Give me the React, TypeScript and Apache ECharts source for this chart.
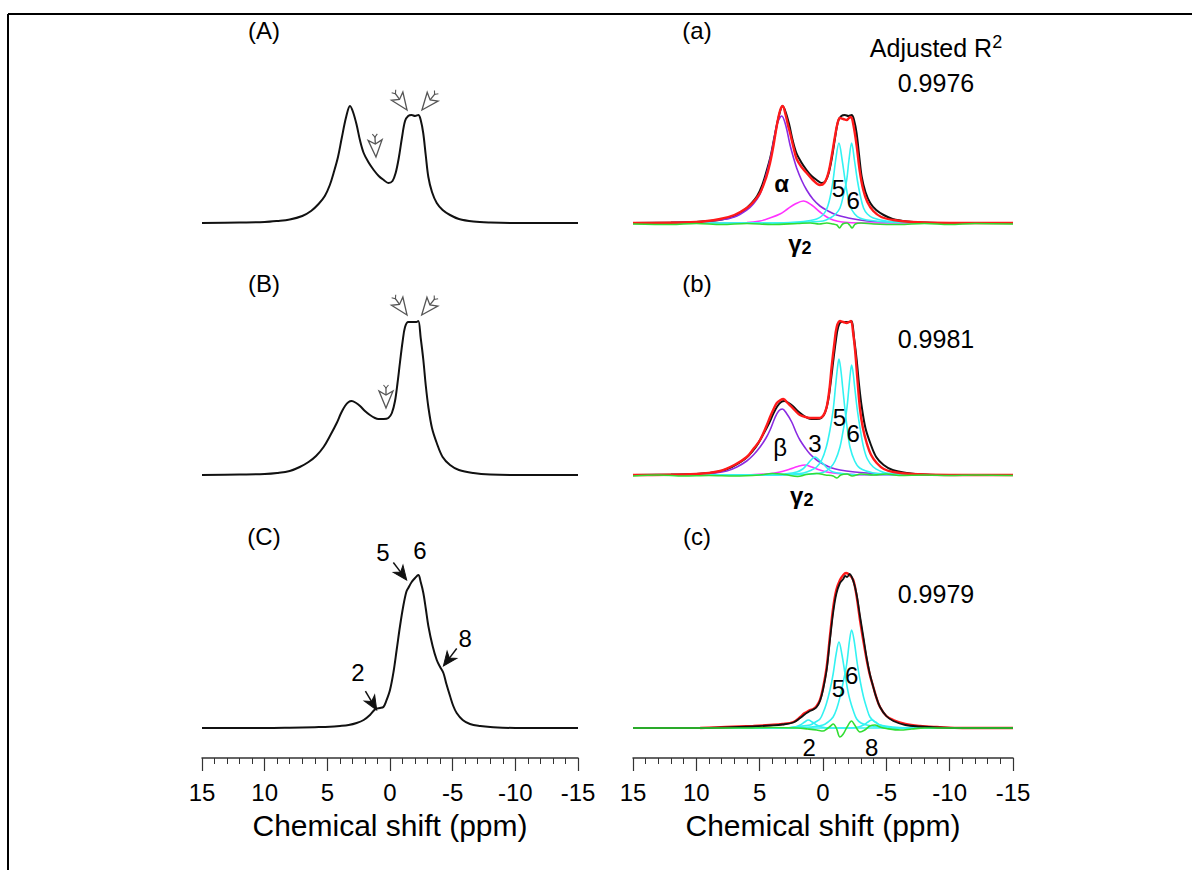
import React, { useEffect, useRef } from "react";
import * as echarts from "echarts";

type P = [number, number];

const FONT = "'Liberation Sans', Arial, Helvetica, sans-serif";

// x axis (ppm) ticks
const xMin = -15;
const xMax = 15;
const xInterval = 5;
const axisTitle = "Chemical shift (ppm)";

const leftPanelLabels = ["(A)", "(B)", "(C)"];
const rightPanelLabels = ["(a)", "(b)", "(c)"];
const r2Header = "Adjusted R";
const r2Values = ["0.9976", "0.9981", "0.9979"];

// ---------- experimental spectra (ppm, intensity) ----------
const specA: P[] = [[15,0],[12,0.5],[10,1],[9,2],[8,3.5],[7,7],[6.3,12],[5.7,19],[5.2,27],[4.8,38],[4.5,50],[4.15,66],[3.85,85],[3.5,106],[3.19,117],[2.95,111],[2.66,98],[2.4,83],[2.1,70],[1.73,61],[1.3,53],[0.9,47],[0.5,43],[0.13,40],[-0.2,42],[-0.45,50],[-0.7,65],[-0.95,85],[-1.2,102],[-1.45,107],[-1.73,108],[-2.0,107],[-2.26,108],[-2.45,103],[-2.65,90],[-2.85,68],[-3.06,46],[-3.35,31],[-3.73,20],[-4.2,13],[-4.79,8],[-5.5,4],[-6.65,1.5],[-8,0.5],[-10,0],[-15,0]];
const specB: P[] = [[15,0],[12,0.5],[10,1],[9,2],[8,4],[7.2,8],[6.5,13],[5.9,19],[5.3,28],[4.75,40],[4.25,52],[3.9,62],[3.59,69],[3.3,73],[3.06,74],[2.7,72],[2.39,69],[2.0,64],[1.6,60],[1.2,57],[0.93,56],[0.5,56],[0.13,57],[-0.15,62],[-0.4,74],[-0.6,92],[-0.8,113],[-1.0,133],[-1.2,148],[-1.46,153],[-1.86,153],[-2.1,153],[-2.26,154],[-2.45,137],[-2.66,115],[-2.85,90],[-3.06,68],[-3.35,47],[-3.73,32],[-4.2,18],[-4.79,10],[-5.5,5],[-6.65,2],[-8,0.5],[-10,0],[-15,0]];
const specC: P[] = [[15,0],[10,0],[8,0.3],[6,0.8],[4.8,1.2],[3.99,2],[3.3,3],[2.66,5],[2.1,8],[1.6,13],[1.25,18],[1.06,19.5],[0.8,20],[0.53,21],[0.3,27],[0,38],[-0.28,56],[-0.53,78],[-0.8,102],[-1.06,122],[-1.3,136],[-1.46,140],[-1.73,146],[-2.0,150],[-2.26,153],[-2.45,146],[-2.66,135],[-2.86,119],[-3.06,102],[-3.4,82],[-3.73,68],[-4.0,61],[-4.26,55],[-4.5,44],[-4.79,32],[-5.05,22],[-5.32,15],[-5.8,8],[-6.38,4],[-7.2,2],[-8,1],[-10,0],[-15,0]];
// experimental trace as drawn in panel (c)
const specCfit: P[] = [[15,0],[10,0],[7.66,0.5],[5.5,1.5],[4.18,2.5],[3.2,3.5],[2.34,5.5],[1.8,10],[1.5,13],[1.29,15],[1.03,17],[0.77,18.5],[0.5,21],[0.24,27],[0,38],[-0.29,58],[-0.55,88],[-0.81,116],[-1.05,134],[-1.34,145],[-1.6,149],[-1.75,152],[-1.9,151],[-2.1,154],[-2.39,147],[-2.65,134],[-2.92,112],[-3.2,90],[-3.45,70],[-3.7,54],[-3.97,41],[-4.2,31],[-4.5,21],[-5.0,12],[-5.55,7],[-6.5,3],[-7.66,1.5],[-9,0.5],[-11,0],[-15,0]];

// ---------- fits, panel (a) ----------
const fitA: P[] = [[15,0],[10,1],[8.13,4],[7,8],[6.02,15],[5.5,21],[4.97,30],[4.5,45],[4.18,60],[3.9,78],[3.65,97],[3.4,112],[3.18,117],[2.95,108],[2.75,97],[2.6,90],[2.3,74],[2.08,64],[1.7,56],[1.29,50],[0.8,43],[0.24,38],[-0.1,40],[-0.42,50],[-0.7,68],[-0.95,87],[-1.15,100],[-1.34,105],[-1.6,104],[-1.87,103],[-2.05,105],[-2.21,106],[-2.4,98],[-2.66,77],[-2.9,52],[-3.18,33],[-3.5,21],[-3.97,12],[-4.6,6],[-5.55,3],[-7,1],[-10,0],[-15,0]];
const alphaA: P[] = [[15,0],[10,1],[8.13,3],[7,6],[6.02,13],[5.5,19],[4.97,29],[4.44,50],[4.1,68],[3.92,80],[3.6,100],[3.26,107],[2.95,98],[2.6,78],[2.3,64],[2.08,55],[1.7,43],[1.29,33],[0.8,24],[0.24,17],[-0.4,12],[-1.08,8],[-2,5],[-2.9,3],[-4,1.5],[-6,0.5],[-15,0]];
const gamma2A: P[] = [[15,0],[6,0.5],[4.97,2],[4.2,5],[3.4,9],[2.8,14],[2.2,19],[1.55,22],[0.9,18],[0.24,11],[-0.3,6],[-0.8,3],[-1.5,1],[-3,0],[-15,0]];
const peak5A: P[] = [[15,0],[4,0],[2,1],[1,2.5],[0.5,4],[0.1,7],[-0.26,13],[-0.55,25],[-0.8,43],[-1.0,63],[-1.26,80],[-1.5,64],[-1.74,43],[-1.95,27],[-2.13,17],[-2.5,9],[-2.9,5],[-3.5,3],[-4.5,1.5],[-6,0.5],[-15,0]];
const peak6A: P[] = [[15,0],[4,0],[1,1],[0,2],[-0.56,5],[-1.0,9],[-1.34,15],[-1.6,27],[-1.87,43],[-2.05,63],[-2.26,80],[-2.48,63],[-2.71,43],[-2.95,27],[-3.2,15],[-3.5,9],[-3.97,5],[-5,2],[-6.5,1],[-8,0],[-15,0]];
const residA: P[] = [[15,-1],[12,-1.5],[10,-0.5],[8,-1.5],[6,-0.5],[4,-1.5],[2,-0.5],[1,0],[0.3,-1],[-0.3,0],[-0.8,-1],[-1.1,-2],[-1.3,-5],[-1.55,-1],[-1.9,0],[-2.1,-2],[-2.3,-5],[-2.55,-1],[-3,0],[-4,-1],[-6,-1.5],[-8,-0.5],[-10,-1.5],[-12,-0.5],[-15,-1]];

// ---------- fits, panel (b) ----------
const fitB: P[] = [[15,0],[10,1],[8.13,4],[7,10],[6.02,18],[5.5,26],[4.97,35],[4.5,48],[4.18,58],[3.9,66],[3.65,72],[3.35,75],[3.13,76],[2.8,72],[2.47,68],[2.1,63],[1.82,60],[1.4,58],[1.03,57],[0.6,57],[0.24,57],[-0.05,60],[-0.29,68],[-0.5,85],[-0.68,108],[-0.9,132],[-1.08,148],[-1.34,154],[-1.6,153],[-1.87,152],[-2.05,153],[-2.21,154],[-2.38,142],[-2.53,125],[-2.72,95],[-2.92,66],[-3.15,47],[-3.45,32],[-3.8,20],[-4.24,12],[-4.8,6],[-5.55,3],[-7,1],[-10,0],[-15,0]];
const betaB: P[] = [[15,0],[10,0.5],[8.5,2],[7.6,4],[6.8,8],[6.02,14],[5.5,20],[4.97,28],[4.5,37],[4.18,45],[3.8,57],[3.5,64],[3.21,66],[2.9,62],[2.47,53],[2.1,42],[1.82,35],[1.4,27],[1.03,21],[0.5,15],[0,11],[-0.7,7],[-1.34,5],[-2.5,3],[-3.45,2],[-5,1],[-7,0],[-15,0]];
const gamma2B: P[] = [[15,0],[6,0],[4.5,1],[3.4,3],[2.6,6],[2,8.5],[1.42,10],[0.9,8],[0.24,5],[-0.3,3],[-0.8,2],[-1.8,1],[-3,0],[-15,0]];
const peak3B: P[] = [[15,0],[4,0],[3,1],[2.08,3],[1.6,6],[1.29,10],[0.95,15],[0.63,18],[0.3,15],[-0.03,11],[-0.4,6],[-0.8,3],[-1.5,1.5],[-2.5,0.5],[-15,0]];
const peak5B: P[] = [[15,0],[4,0],[2.5,1],[1.55,2],[0.9,5],[0.5,8],[0.1,15],[-0.26,28],[-0.55,45],[-0.8,65],[-1.0,90],[-1.15,108],[-1.26,116],[-1.4,106],[-1.55,88],[-1.74,65],[-1.93,45],[-2.13,28],[-2.5,14],[-2.9,7],[-3.97,2],[-5,1],[-7,0],[-15,0]];
const peak6B: P[] = [[15,0],[3,0],[1,1],[0,2.5],[-0.56,7],[-0.95,14],[-1.34,28],[-1.6,45],[-1.87,65],[-2.05,88],[-2.16,102],[-2.26,110],[-2.38,102],[-2.5,88],[-2.71,65],[-2.95,45],[-3.2,28],[-3.5,16],[-3.97,8],[-4.5,4],[-5,2],[-6.5,1],[-8,0],[-15,0]];
const residB: P[] = [[15,-1],[13,0],[11,-1],[9,-0.5],[7,-1],[5,0],[4,1.5],[3,0.5],[2,-1.5],[1.3,0.5],[0.5,1.5],[-0.2,0],[-0.8,-1],[-1.1,-3],[-1.4,0],[-1.9,1],[-2.3,-1],[-3,1],[-4,0],[-5,1],[-6,-0.5],[-8,0],[-10,-0.5],[-12,0],[-15,-0.5]];

// ---------- fits, panel (c) ----------
const fitC: P[] = [[9.7,0],[7.66,1],[5.5,2],[4.18,3],[3.2,4],[2.34,6],[1.8,11],[1.5,14.5],[1.29,16],[1.03,18],[0.77,19],[0.5,22],[0.24,28],[0,40],[-0.29,61],[-0.55,92],[-0.81,121],[-1.05,138],[-1.34,148],[-1.6,153],[-1.82,155],[-2.1,153],[-2.39,148],[-2.65,132],[-2.92,108],[-3.2,86],[-3.45,68],[-3.7,53],[-3.97,41],[-4.2,31],[-4.5,21],[-5.0,12],[-5.55,8],[-6.5,4],[-7.66,2],[-9,1],[-11,0],[-15,0]];
const peak5C: P[] = [[15,0],[3,0],[2,1.5],[1.03,3],[0.6,6],[0.24,9],[0,15],[-0.26,24],[-0.55,38],[-0.8,54],[-1.05,75],[-1.26,86],[-1.5,73],[-1.74,54],[-1.95,38],[-2.13,28],[-2.4,17],[-2.66,9],[-3.0,5],[-3.45,3],[-4.5,1],[-6,0],[-15,0]];
const peak6C: P[] = [[15,0],[2,0],[1,1],[0,3],[-0.4,6],[-0.8,11],[-1.1,20],[-1.34,31],[-1.6,46],[-1.87,64],[-2.1,88],[-2.26,98],[-2.45,88],[-2.71,64],[-2.95,46],[-3.2,31],[-3.45,20],[-3.71,11],[-4.1,6],[-4.5,3],[-5.5,1],[-7,0],[-15,0]];
const peak2C: P[] = [[15,0],[3,0],[2.2,1],[1.8,3],[1.45,6],[1.16,8],[0.85,6],[0.5,3],[0.1,1],[-0.5,0],[-15,0]];
const peak8C: P[] = [[15,0],[-2,0],[-2.8,1],[-3.2,3],[-3.55,6],[-3.84,8],[-4.15,6],[-4.5,3],[-5,1],[-6,0],[-15,0]];
const residC: P[] = [[15,0],[10,0],[6,0],[4,0.5],[2,0],[1.2,-1],[0.5,-2],[0,-3],[-0.3,-1],[-0.6,2],[-0.81,4],[-1.05,0],[-1.34,-9],[-1.6,-6],[-1.9,1],[-2.26,7],[-2.5,3],[-2.92,-4],[-3.3,-2],[-3.7,2],[-4.1,3],[-4.5,1],[-5,-0.5],[-6.1,-2],[-7,-1],[-8,0],[-15,0]];

// ---------- annotations in data coordinates ----------
// grid index: 0 A, 1 a, 2 B, 3 b, 4 C, 5 c
const hollowArrows = [
  { grid: 0, ppm: -1.36, y: 113, rot: 0.62 },
  { grid: 0, ppm: -2.55, y: 113, rot: -0.68 },
  { grid: 0, ppm: 1.12, y: 66, rot: 0.05 },
  { grid: 2, ppm: -1.36, y: 160, rot: 0.62 },
  { grid: 2, ppm: -2.53, y: 160, rot: -0.68 },
  { grid: 2, ppm: 0.32, y: 67, rot: 0.0 },
];
const filledArrows = [
  { grid: 4, ppm: -1.33, y: 148, rot: 0.65 },
  { grid: 4, ppm: 1.06, y: 18, rot: 0.54 },
  { grid: 4, ppm: -4.26, y: 62, rot: -0.65 },
];
const peakLabels = [
  { grid: 4, ppm: 0.56, y: 176, text: "5" },
  { grid: 4, ppm: -2.39, y: 178, text: "6" },
  { grid: 4, ppm: -6.0, y: 90, text: "8" },
  { grid: 4, ppm: 2.55, y: 56, text: "2" },
  { grid: 1, ppm: 3.26, y: 40, text: "α", bold: true },
  { grid: 1, ppm: -1.21, y: 35, text: "5" },
  { grid: 1, ppm: -2.39, y: 23, text: "6" },
  { grid: 3, ppm: 3.39, y: 28, text: "β" },
  { grid: 3, ppm: 0.63, y: 32, text: "3" },
  { grid: 3, ppm: -1.29, y: 58, text: "5" },
  { grid: 3, ppm: -2.39, y: 42, text: "6" },
  { grid: 5, ppm: -1.21, y: 40, text: "5" },
  { grid: 5, ppm: -2.27, y: 53, text: "6" },
  { grid: 5, ppm: 1.1, y: -19, text: "2" },
  { grid: 5, ppm: -3.84, y: -19, text: "8" },
];
const gammaLabels = [
  { grid: 1, ppm: 1.82, y: -20 },
  { grid: 3, ppm: 1.68, y: -20 },
];

const COLORS = {
  black: "#111111",
  red: "#ff1a1a",
  purple: "#8a2be2",
  magenta: "#ff33ff",
  cyan: "#33f2f2",
  green: "#33dd33",
};

const rowBaselines = [223, 475, 728];
const Y_MIN = -20;
const Y_MAX = 180;
const GRID_H = 200;
const LEFT_X = 202;
const LEFT_W = 376;
const RIGHT_X = 633;
const RIGHT_W = 380;

function lineSeries(data: P[], grid: number, color: string, width: number, z: number) {
  return {
    type: "line",
    data,
    xAxisIndex: grid,
    yAxisIndex: grid,
    showSymbol: false,
    symbol: "none",
    smooth: 0.35,
    silent: true,
    lineStyle: { color, width },
    itemStyle: { color },
    z,
  };
}

function buildOption() {
  const grids: any[] = [];
  const xAxes: any[] = [];
  const yAxes: any[] = [];
  for (let r = 0; r < 3; r++) {
    const top = rowBaselines[r] - Y_MAX;
    for (let c = 0; c < 2; c++) {
      const idx = r * 2 + c;
      grids.push({
        left: c === 0 ? LEFT_X : RIGHT_X,
        width: c === 0 ? LEFT_W : RIGHT_W,
        top,
        height: GRID_H,
        containLabel: false,
      });
      const bottom = r === 2;
      xAxes.push({
        type: "value",
        gridIndex: idx,
        min: xMin,
        max: xMax,
        interval: xInterval,
        inverse: true,
        show: bottom,
        position: "bottom",
        offset: 10,
        axisLine: { show: true, onZero: false, lineStyle: { color: "#333", width: 1.5 } },
        axisTick: { show: true, inside: false, length: 13, lineStyle: { color: "#333", width: 1.2 } },
        minorTick: { show: true, splitNumber: 5, length: 6, lineStyle: { color: "#333", width: 1 } },
        splitLine: { show: false },
        minorSplitLine: { show: false },
        axisLabel: {
          show: true,
          fontSize: 24,
          color: "#000",
          fontFamily: FONT,
          margin: 22,
          showMinLabel: true,
          showMaxLabel: true,
        },
        name: bottom ? axisTitle : "",
        nameLocation: "middle",
        nameGap: 52,
        nameTextStyle: { fontSize: 30, color: "#000", fontFamily: FONT },
      });
      yAxes.push({
        type: "value",
        gridIndex: idx,
        min: Y_MIN,
        max: Y_MAX,
        show: false,
        splitLine: { show: false },
      });
    }
  }

  const series: any[] = [
    // left column: experimental spectra
    lineSeries(specA, 0, COLORS.black, 2, 2),
    lineSeries(specB, 2, COLORS.black, 2, 2),
    lineSeries(specC, 4, COLORS.black, 2, 2),
    // (a)
    lineSeries(specA, 1, COLORS.black, 2, 2),
    lineSeries(alphaA, 1, COLORS.purple, 1.6, 3),
    lineSeries(gamma2A, 1, COLORS.magenta, 1.6, 3),
    lineSeries(peak5A, 1, COLORS.cyan, 1.6, 3),
    lineSeries(peak6A, 1, COLORS.cyan, 1.6, 3),
    lineSeries(fitA, 1, COLORS.red, 2.4, 4),
    lineSeries(residA, 1, COLORS.green, 1.6, 5),
    // (b)
    lineSeries(specB, 3, COLORS.black, 2, 2),
    lineSeries(betaB, 3, COLORS.purple, 1.6, 3),
    lineSeries(gamma2B, 3, COLORS.magenta, 1.6, 3),
    lineSeries(peak3B, 3, COLORS.cyan, 1.6, 3),
    lineSeries(peak5B, 3, COLORS.cyan, 1.6, 3),
    lineSeries(peak6B, 3, COLORS.cyan, 1.6, 3),
    lineSeries(fitB, 3, COLORS.red, 2.4, 4),
    lineSeries(residB, 3, COLORS.green, 1.6, 5),
    // (c)
    lineSeries(peak2C, 5, COLORS.cyan, 1.6, 3),
    lineSeries(peak5C, 5, COLORS.cyan, 1.6, 3),
    lineSeries(peak6C, 5, COLORS.cyan, 1.6, 3),
    lineSeries(peak8C, 5, COLORS.cyan, 1.6, 3),
    lineSeries(fitC, 5, COLORS.red, 2.4, 4),
    lineSeries(specCfit, 5, COLORS.black, 1.8, 4),
    lineSeries(residC, 5, COLORS.green, 1.6, 5),
  ];

  return {
    animation: false,
    backgroundColor: "#ffffff",
    grid: grids,
    xAxis: xAxes,
    yAxis: yAxes,
    series,
  };
}

function txt(x: number, y: number, text: string, size: number, extra: any = {}) {
  return {
    type: "text",
    x,
    y,
    z: 10,
    style: {
      text,
      fontSize: size,
      fontFamily: FONT,
      fill: "#000",
      align: "center",
      verticalAlign: "middle",
      ...extra,
    },
  };
}

function buildGraphics(chart: any) {
  const px = (g: number, x: number, y: number): number[] =>
    chart.convertToPixel({ gridIndex: g }, [x, y]) as number[];
  const els: any[] = [];
  // frame
  els.push({ type: "line", shape: { x1: 8, y1: 14, x2: 1192, y2: 14 }, style: { stroke: "#000", lineWidth: 2 } });
  els.push({ type: "line", shape: { x1: 8, y1: 14, x2: 8, y2: 870 }, style: { stroke: "#000", lineWidth: 2 } });

  // panel labels
  const labelYs = [30, 283, 536];
  leftPanelLabels.forEach((t, i) => els.push(txt(264, labelYs[i], t, 24)));
  rightPanelLabels.forEach((t, i) => els.push(txt(697, labelYs[i], t, 24)));

  // Adjusted R2 header + values
  els.push({
    type: "text",
    x: 936,
    y: 48,
    z: 10,
    style: {
      text: "{a|" + r2Header + "}{s|2}",
      align: "center",
      verticalAlign: "middle",
      fill: "#000",
      rich: {
        a: { fontSize: 25, fontFamily: FONT, lineHeight: 30, fill: "#000" },
        s: { fontSize: 18, fontFamily: FONT, verticalAlign: "top", lineHeight: 20, fill: "#000" },
      },
    },
  });
  const r2Ys = [83, 339, 594];
  r2Values.forEach((t, i) => els.push(txt(936, r2Ys[i], t, 25)));

  // hollow arrows
  hollowArrows.forEach((a) => {
    const [x, y] = px(a.grid, a.ppm, a.y);
    els.push({
      type: "group",
      x,
      y,
      rotation: a.rot,
      z: 10,
      children: [
        { type: "polyline", shape: { points: [[0, -12], [0, -21]] }, style: { stroke: "#555", lineWidth: 1.3, fill: "none" } },
        { type: "polyline", shape: { points: [[-2.5, -23], [0, -20], [2.5, -23]] }, style: { stroke: "#555", lineWidth: 1.1, fill: "none" } },
        { type: "polygon", shape: { points: [[0, 0], [-7, -17], [0, -13], [7, -17]] }, style: { fill: "#fff", stroke: "#555", lineWidth: 1.3 } },
      ],
    });
  });

  // filled arrows
  filledArrows.forEach((a) => {
    const [x, y] = px(a.grid, a.ppm, a.y);
    els.push({
      type: "group",
      x,
      y,
      rotation: a.rot,
      z: 10,
      children: [
        { type: "polyline", shape: { points: [[0, -9], [0, -22]] }, style: { stroke: "#111", lineWidth: 1.5, fill: "none" } },
        { type: "polygon", shape: { points: [[0, 0], [-6, -14], [0, -10], [6, -14]] }, style: { fill: "#111", stroke: "#111", lineWidth: 1 } },
      ],
    });
  });

  // peak labels
  peakLabels.forEach((l: any) => {
    const [x, y] = px(l.grid, l.ppm, l.y);
    els.push(txt(x, y, l.text, 24, l.bold ? { fontWeight: "bold" } : {}));
  });

  // gamma2 labels
  gammaLabels.forEach((l) => {
    const [x, y] = px(l.grid, l.ppm, l.y);
    els.push({
      type: "text",
      x,
      y,
      z: 10,
      style: {
        text: "{g|γ}{s|2}",
        align: "center",
        verticalAlign: "middle",
        fill: "#000",
        rich: {
          g: { fontSize: 24, fontFamily: FONT, fontWeight: "bold", lineHeight: 28, fill: "#000" },
          s: { fontSize: 18, fontFamily: FONT, fontWeight: "bold", verticalAlign: "bottom", lineHeight: 19, fill: "#000" },
        },
      },
    });
  });

  return els;
}

export default function App() {
  const ref = useRef<HTMLDivElement>(null);
  useEffect(() => {
    if (!ref.current) return;
    const chart = echarts.init(ref.current, undefined, { renderer: "svg" });
    chart.setOption(buildOption() as any);
    chart.setOption({ graphic: { elements: buildGraphics(chart) } } as any);
    return () => {
      chart.dispose();
    };
  }, []);
  return (
    <div
      ref={ref}
      style={{ position: "absolute", left: 0, top: 0, width: 1192, height: 870, background: "#fff" }}
    />
  );
}
